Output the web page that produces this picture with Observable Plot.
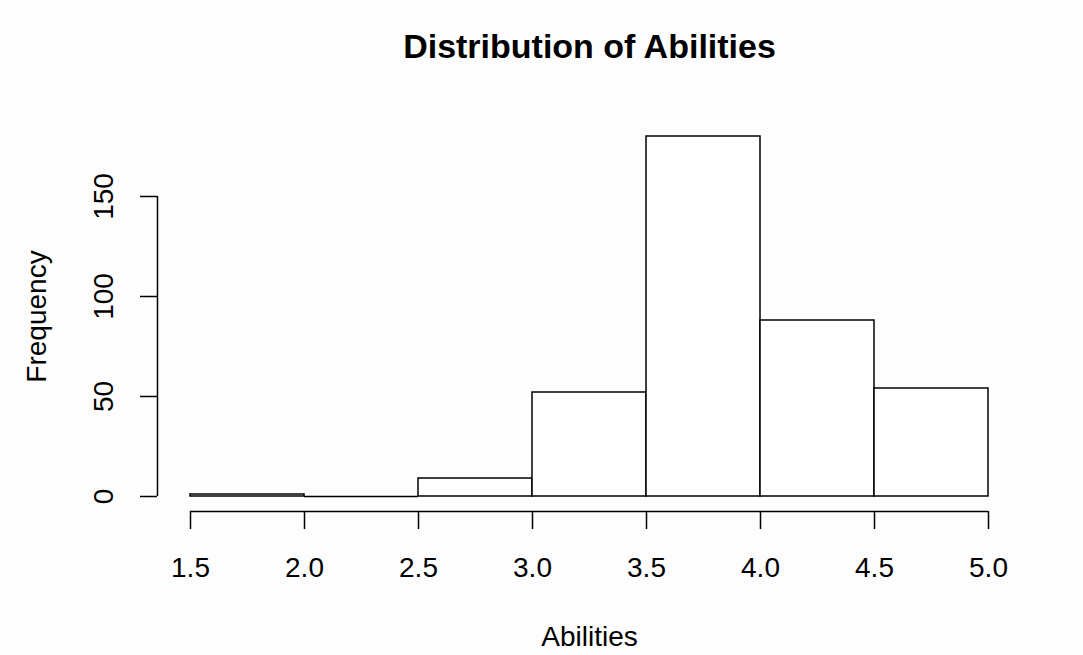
<!DOCTYPE html>
<html>
<head>
<meta charset="utf-8">
<script src="https://cdn.jsdelivr.net/npm/d3@7"></script>
<script src="https://cdn.jsdelivr.net/npm/@observablehq/plot@0.6"></script>
<style>
  html, body { margin: 0; padding: 0; background: #fdfdfd; }
  svg { display: block; }
</style>
</head>
<body>
<div id="chart"></div>
<script>
const binStarts = [1.5, 2.0, 2.5, 3.0, 3.5, 4.0, 4.5];
const binEnds   = [2.0, 2.5, 3.0, 3.5, 4.0, 4.5, 5.0];
const counts    = [1, 0, 9, 52, 180, 88, 54];
const xTicks = [1.5, 2.0, 2.5, 3.0, 3.5, 4.0, 4.5, 5.0];
const yTicks = [0, 50, 100, 150];
const title = "Distribution of Abilities";
const xLabel = "Abilities";
const yLabel = "Frequency";

const bins = binStarts.map((s, i) => ({x1: s, x2: binEnds[i], count: counts[i]}));
const font = "'Liberation Sans', Arial, Helvetica, sans-serif";

const chart = Plot.plot({
  width: 1083,
  height: 655,
  marginLeft: 190,
  marginRight: 95,
  marginTop: 136,
  marginBottom: 159,
  style: {fontFamily: font, background: "#fdfdfd", color: "#000"},
  x: {domain: [1.5, 5.0], axis: null},
  y: {domain: [0, 180], axis: null},
  marks: [
    Plot.rectY(bins.filter(d => d.count > 0), {x1: "x1", x2: "x2", y: "count", fill: "#ffffff", stroke: "#000", strokeWidth: 1.5}),
    // empty bins are drawn as a flat line on the baseline
    Plot.ruleY(bins.filter(d => d.count === 0), {x1: "x1", x2: "x2", y: "count", stroke: "#000", strokeWidth: 1.5}),
    // x axis line
    Plot.ruleY([0], {x1: xTicks[0], x2: xTicks[xTicks.length - 1], dy: 15, stroke: "#000", strokeWidth: 1.5}),
    Plot.axisX({ticks: xTicks, tickSize: 18, dy: 15, tickPadding: 28, fontSize: 28, tickFormat: d3.format(".1f"), label: null, stroke: "#000", strokeWidth: 1.5, strokeOpacity: 1, fill: "#000"}),
    // y axis line
    Plot.ruleX([xTicks[0]], {y1: yTicks[0], y2: yTicks[yTicks.length - 1], dx: -33, stroke: "#000", strokeWidth: 1.5}),
    Plot.axisY({ticks: yTicks, tickSize: 17, dx: -33, tickFormat: () => "", label: null, stroke: "#000", strokeWidth: 1.5, strokeOpacity: 1}),
    Plot.text(yTicks, {y: d => d, text: d => String(d), frameAnchor: "left", dx: -86, rotate: -90, fontSize: 28, textAnchor: "middle", lineAnchor: "middle", fill: "#000"}),
    // titles
    Plot.text([title], {frameAnchor: "top", dy: -89, fontSize: 34, fontWeight: "bold", textAnchor: "middle", lineAnchor: "middle", fill: "#000"}),
    Plot.text([xLabel], {frameAnchor: "bottom", dy: 141, fontSize: 28, textAnchor: "middle", lineAnchor: "middle", fill: "#000"}),
    Plot.text([yLabel], {frameAnchor: "left", dx: -153, rotate: -90, fontSize: 28, textAnchor: "middle", lineAnchor: "middle", fill: "#000"})
  ]
});
document.getElementById("chart").appendChild(chart);
</script>
</body>
</html>
